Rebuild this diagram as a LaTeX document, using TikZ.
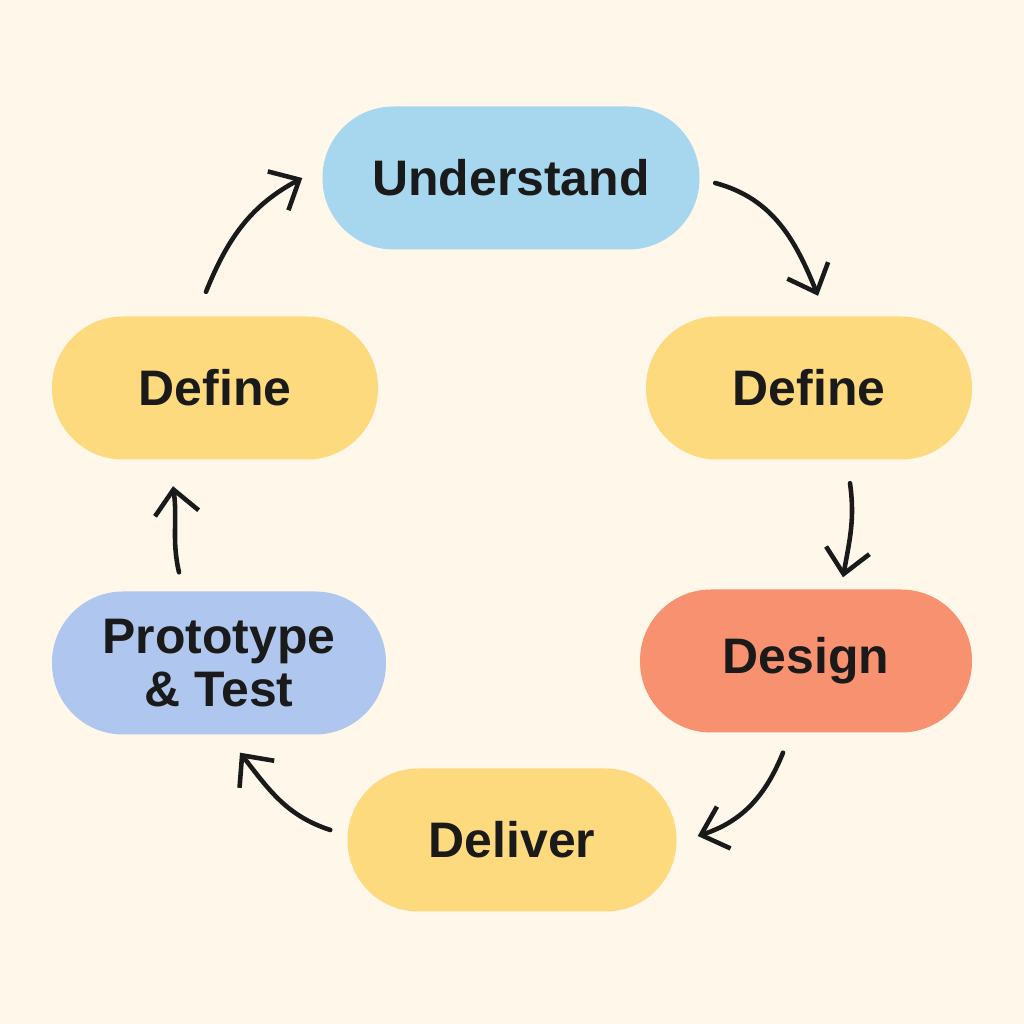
\documentclass[tikz,border=0pt]{standalone}
\usepackage{fontspec}
\setmainfont{Liberation Sans}
\usepackage{tikz}
\usetikzlibrary{arrows.meta}

\definecolor{bgcream}{HTML}{FEF7EA}
\definecolor{inkblack}{HTML}{1A1A1A}
\definecolor{skyblue}{HTML}{A7D7EE}
\definecolor{sunyellow}{HTML}{FDDA7D}
\definecolor{salmon}{HTML}{F7916F}
\definecolor{periwinkle}{HTML}{AFC6EE}

\begin{document}
\begin{tikzpicture}[phase/.style={rounded corners=0.71cm,minimum height=1.43cm,inner sep=0pt,align=center,font=\fontsize{14.2}{15}\selectfont\bfseries,text=inkblack},flow/.style={-{Straight Barb[length=2.4mm,width=4.4mm]},line width=1.3pt,draw=inkblack,line cap=round}]
	\fill[bgcream] (0,0) rectangle (10.24,10.24);
	\node[phase,fill=skyblue,minimum width=3.77cm] (understand) at (5.11,8.46) {Understand};
	\node[phase,fill=sunyellow,minimum width=3.26cm] (defineR) at (8.09,6.36) {Define};
	\node[phase,fill=salmon,minimum width=3.32cm] (design) at (8.06,3.63) {Design};
	\node[phase,fill=sunyellow,minimum width=3.29cm] (deliver) at (5.12,1.84) {Deliver};
	\node[phase,fill=periwinkle,minimum width=3.34cm] (proto) at (2.19,3.61) {Prototype\\\& Test};
	\node[phase,fill=sunyellow,minimum width=3.26cm] (defineL) at (2.15,6.36) {Define};
	\draw[flow] ([shift={(0.15,-0.05)}]understand.east) to[out=-15,in=112] ([shift={(0.09,0.20)}]defineR.north);
	\draw[flow] ([shift={(0.41,-0.23)}]defineR.south) to[out=-82,in=80] ([shift={(0.37,0.115)}]design.north);
	\draw[flow] ([shift={(-0.23,-0.195)}]design.south) to[out=-112,in=18] ([shift={(0.205,0.04)}]deliver.east);
	\draw[flow] ([shift={(-0.165,0.10)}]deliver.west) to[out=162,in=-52] ([shift={(0.21,-0.175)}]proto.south);
	\draw[flow] ([shift={(-0.40,0.185)}]proto.north) to[out=103,in=-82] ([shift={(-0.42,-0.26)}]defineL.south);
	\draw[flow] ([shift={(-0.09,0.24)}]defineL.north) to[out=68,in=-152] ([shift={(-0.195,0)}]understand.west);
\end{tikzpicture}
\end{document}
